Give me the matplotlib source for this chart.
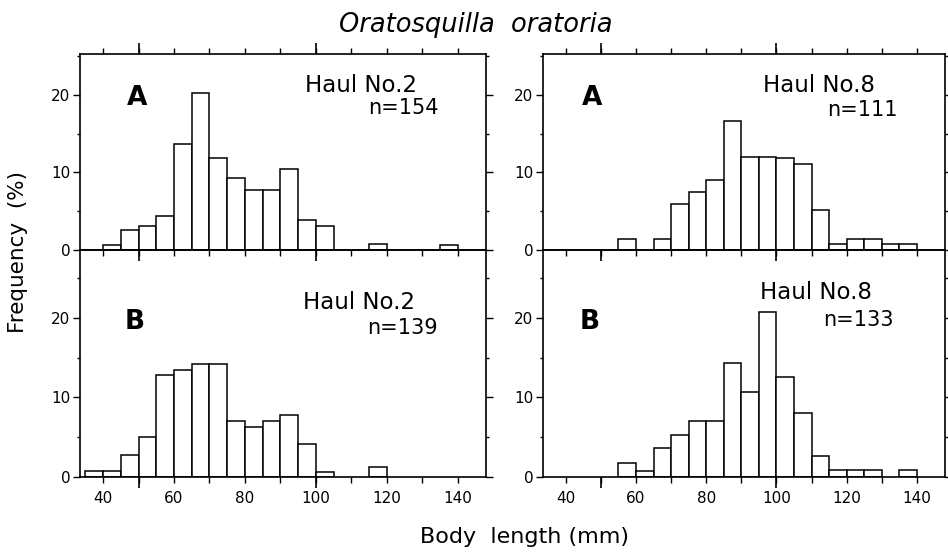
import numpy as np
import matplotlib
matplotlib.use("Agg")
import matplotlib.pyplot as plt
from matplotlib.ticker import FixedLocator, FuncFormatter

# ---- data (percent frequency per 5 mm body-length class) ----
bin_left = [35, 40, 45, 50, 55, 60, 65, 70, 75, 80, 85, 90, 95, 100,
            105, 110, 115, 120, 125, 130, 135]
bin_width = 5

haul2_A = [0, 0.6, 2.5, 3.1, 4.4, 13.7, 20.2, 11.8, 9.2, 7.7, 7.7, 10.4, 3.8, 3.1,
           0, 0, 0.65, 0, 0, 0, 0.6]
haul2_B = [0.7, 0.7, 2.8, 5.0, 12.8, 13.5, 14.2, 14.2, 7.1, 6.3, 7.0, 7.8, 4.1, 0.6,
           0, 0, 1.3, 0, 0, 0, 0]
haul8_A = [0, 0, 0, 0, 1.4, 0, 1.4, 5.9, 7.5, 9.0, 16.6, 12.0, 12.0, 11.9,
           11.1, 5.1, 0.7, 1.4, 1.4, 0.7, 0.7]
haul8_B = [0, 0, 0, 0, 1.8, 0.8, 3.6, 5.3, 7.1, 7.1, 14.3, 10.7, 20.8, 12.6,
           8.0, 2.6, 0.9, 0.9, 0.9, 0, 0.9]

panel_letters = ["A", "B", "A", "B"]
haul_labels = ["Haul No.2", "Haul No.2", "Haul No.8", "Haul No.8"]
n_labels = ["n=154", "n=139", "n=111", "n=133"]

x_ticks = [40, 50, 60, 70, 80, 90, 100, 110, 120, 130, 140]
x_labels_shown = [40, 60, 80, 100, 120, 140]
x_long_ticks = [50, 100]
y_ticks = [0, 10, 20]
y_minor = [5, 15, 25]

title = "Oratosquilla  oratoria"
xlabel = "Body  length (mm)"
ylabel = "Frequency  (%)"

# ---- layout ----
W, H = 948, 552
fig = plt.figure(figsize=(W / 100, H / 100), dpi=100)
fig.patch.set_facecolor("white")

colx = [(80, 486), (543, 945)]
rowy = [(54, 249.5), (249.5, 477)]
ylims = [25.3, 28.6]

def fx(p):
    return p / W

def fy(p):
    return 1 - p / H

series = [[haul2_A, haul2_B], [haul8_A, haul8_B]]
text_pos = {
    (0, 0): [(0.14, 0.775), (0.554, 0.84), (0.709, 0.724)],
    (0, 1): [(0.135, 0.683), (0.549, 0.767), (0.707, 0.656)],
    (1, 0): [(0.122, 0.775), (0.547, 0.84), (0.706, 0.713)],
    (1, 1): [(0.117, 0.683), (0.54, 0.81), (0.697, 0.69)],
}

idx = 0
for c in range(2):
    for r in range(2):
        x0, x1 = colx[c]
        t, b = rowy[r]
        ax = fig.add_axes([fx(x0), fy(b), fx(x1 - x0), (b - t) / H])
        ax.patch.set_alpha(0)
        vals = series[c][r]
        lefts = [l for l, v in zip(bin_left, vals) if v > 0]
        heights = [v for v in vals if v > 0]
        ax.bar(lefts, heights, width=bin_width, align="edge",
               facecolor="white", edgecolor="black", linewidth=1.1, zorder=2)
        ax.set_xlim(33.5, 148)
        ax.set_ylim(0, ylims[r])
        for s in ax.spines.values():
            s.set_linewidth(1.2)

        ax.xaxis.set_major_locator(FixedLocator(x_ticks))
        ax.xaxis.set_minor_locator(FixedLocator(x_long_ticks))
        ax.xaxis.remove_overlapping_locs = False
        ax.xaxis.set_major_formatter(
            FuncFormatter(lambda v, p: f"{int(v)}" if int(round(v)) in x_labels_shown else ""))
        ax.xaxis.set_minor_formatter(FuncFormatter(lambda v, p: ""))
        ax.yaxis.set_major_locator(FixedLocator(y_ticks))
        ax.yaxis.set_minor_locator(FixedLocator(y_minor))

        ax.tick_params(axis="x", which="major", direction="out", length=4, width=1.0,
                       top=(r == 0), bottom=True, labelbottom=(r == 1),
                       labelsize=11, pad=6)
        ax.tick_params(axis="x", which="minor", direction="out", length=8, width=1.2,
                       top=(r == 0), bottom=True)
        ax.tick_params(axis="y", which="major", direction="out", length=5, width=1.0,
                       left=True, right=True, labelleft=True, labelsize=11, pad=2)
        ax.tick_params(axis="y", which="minor", direction="out", length=2, width=1.0,
                       left=True, right=True)

        tp = text_pos[(c, r)]
        ax.text(tp[0][0], tp[0][1], panel_letters[idx], transform=ax.transAxes,
                ha="center", va="center", fontsize=19, fontweight="bold")
        ax.text(tp[1][0], tp[1][1], haul_labels[idx], transform=ax.transAxes,
                ha="left", va="center", fontsize=16.5)
        ax.text(tp[2][0], tp[2][1], n_labels[idx], transform=ax.transAxes,
                ha="left", va="center", fontsize=15)
        idx += 1

fig.text(fx(476), fy(25), title, ha="center", va="center",
         fontsize=18.5, style="italic")
fig.text(fx(525), fy(537), xlabel, ha="center", va="center", fontsize=16)
fig.text(fx(18), fy(252), ylabel, ha="center", va="center",
         fontsize=15.5, rotation=90)

fig.savefig("out.png", dpi=100)
